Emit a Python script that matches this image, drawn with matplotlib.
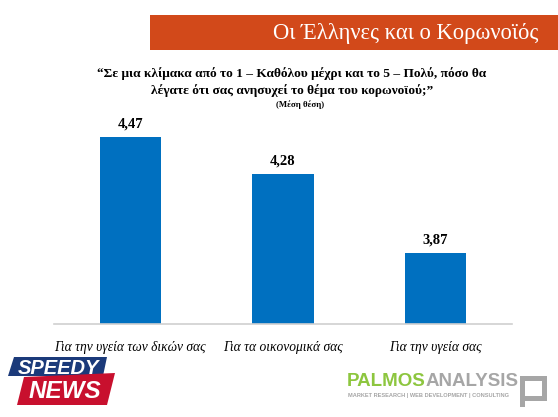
#!/usr/bin/env python3
"""Greek survey chart: concern about coronavirus (mean score)."""
import matplotlib
matplotlib.use("Agg")
import matplotlib.pyplot as plt
from matplotlib.lines import Line2D
from matplotlib.patches import Polygon, Rectangle
import numpy as np

categories = ["Για την υγεία των δικών σας", "Για τα οικονομικά σας", "Για την υγεία σας"]
values = [4.47, 4.28, 3.87]
value_labels = ["4,47", "4,28", "3,87"]

title = "Οι Έλληνες και ο Κορωνοϊός"
question = ("“Σε μια κλίμακα από το 1 – Καθόλου μέχρι και το 5 – Πολύ, πόσο θα\n"
            "λέγατε ότι σας ανησυχεί το θέμα του κορωνοϊού;”")
note = "(Μέση θέση)"

W, H = 558, 417
SERIF = ["Liberation Serif", "DejaVu Serif"]
SANS = ["Liberation Sans", "DejaVu Sans"]


def fx(px):
    return px / W


def fy(py):
    return 1 - py / H


fig = plt.figure(figsize=(W / 100, H / 100), dpi=100)
fig.patch.set_facecolor("white")

# orange banner with title
fig.patches.append(Rectangle((fx(150), fy(50)), fx(558) - fx(150), fy(15) - fy(50),
                             transform=fig.transFigure, facecolor="#D2491A", edgecolor="none"))
fig.text(fx(538), fy(34), title, ha="right", va="center", color="white",
         fontsize=16.3, family=SERIF)

fig.text(fx(292), fy(82), question, ha="center", va="center", fontsize=9.65,
         fontweight="bold", family=SERIF, linespacing=1.45)
fig.text(fx(300), fy(104.5), note, ha="center", va="center", fontsize=6.3,
         fontweight="bold", family=SERIF)

# bar chart
ax = fig.add_axes([fx(54), fy(324), fx(512) - fx(54), fy(35.5) - fy(324)])
x = np.arange(len(values))
ax.bar(x, values, width=0.40, color="#0070C0")
ax.set_ylim(3.5, 5.0)
ax.set_xlim(-0.5, 2.5)
for xi, v, lab in zip(x, values, value_labels):
    ax.text(xi, v + 0.035, lab, ha="center", va="bottom", fontsize=10.5,
            fontweight="bold", family=SERIF)

for side in ["top", "right", "left"]:
    ax.spines[side].set_visible(False)
ax.spines["bottom"].set_color("#D0D0D0")
ax.spines["bottom"].set_linewidth(1.2)
ax.set_yticks([])
ax.set_xticks(x)
ax.set_xticklabels(categories, fontsize=9.75, style="italic", family=SERIF)
ax.tick_params(axis="x", length=0, pad=12)
ax.patch.set_alpha(0)

# SPEEDY NEWS logo
fig.patches.append(Polygon([(fx(8), fy(376)), (fx(14), fy(357)), (fx(107), fy(357)), (fx(103), fy(376))],
                           closed=True, transform=fig.transFigure, facecolor="#1B3A7A", edgecolor="none"))
fig.patches.append(Polygon([(fx(17), fy(405)), (fx(24), fy(377)), (fx(115), fy(373)), (fx(107), fy(405))],
                           closed=True, transform=fig.transFigure, facecolor="#C8102E", edgecolor="none"))
fig.text(fx(58), fy(368), "SPEEDY", ha="center", va="center", color="white", fontsize=14.5,
         fontweight="bold", style="italic", family=SANS)
fig.text(fx(65), fy(391), "NEWS", ha="center", va="center", color="white", fontsize=17.5,
         fontweight="bold", style="italic", family=SANS)

# PALMOS ANALYSIS logo
palmos = fig.text(fx(347), fy(381), "PALMOS", ha="left", va="center", color="#8DC63F", fontsize=13.5,
                  fontweight="bold", family=SANS)
renderer = fig.canvas.get_renderer()
bb = palmos.get_window_extent(renderer=renderer)
fig.text(bb.x1 / fig.bbox.width, fy(381), "ANALYSIS", ha="left", va="center", color="#A6A6A6",
         fontsize=13.5, fontweight="bold", family=SANS)
fig.text(fx(348), fy(395.5), "MARKET RESEARCH | WEB DEVELOPMENT | CONSULTING", ha="left", va="center",
         color="#A6A6A6", fontsize=4.1, fontweight="bold", family=SANS)
fig.patches.append(Rectangle((fx(522), fy(397.5)), fx(21.5), fy(377.5) - fy(397.5),
                             transform=fig.transFigure, facecolor="none", edgecolor="#A6A6A6",
                             linewidth=3.6))
fig.lines.append(Line2D([fx(522), fx(522)], [fy(397.5), fy(404)], transform=fig.transFigure,
                        color="#A6A6A6", linewidth=3.6))

fig.savefig("out.png", dpi=100)
